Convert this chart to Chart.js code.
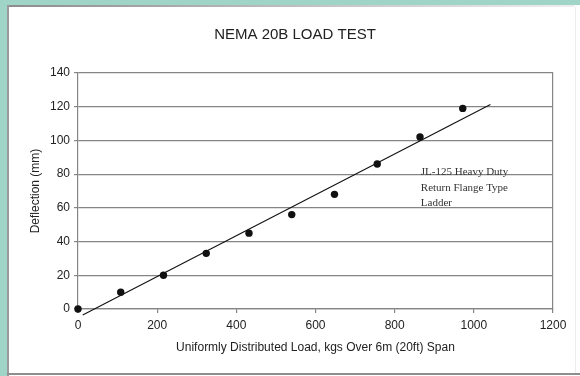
<!DOCTYPE html>
<html>
<head>
<meta charset="utf-8">
<title>NEMA 20B Load Test</title>
<script src="https://cdn.jsdelivr.net/npm/chart.js@4.4.1/dist/chart.umd.min.js"></script>
<style>
  body { margin: 0; background: #fff; }
  #frame { position: relative; width: 580px; height: 376px; overflow: hidden; background: #fff; }
  #frame canvas { position: absolute; left: 0; top: 0; }
  .edge { position: absolute; z-index: 2; }
  .teal-top { left: 0; top: 0; width: 580px; height: 5px; background: #9fd4c6; }
  .teal-left { left: 0; top: 0; width: 7px; height: 376px; background: #9fd4c6; }
  .line-top { left: 7px; top: 5px; width: 568px; height: 2px; background: linear-gradient(to right, #8c8c8c, #c8c8c8 60%, #eeeeee); }
  .line-left { left: 7px; top: 5px; width: 2px; height: 371px; background: #9a9a9a; }
  .line-bottom { left: 7px; top: 373px; width: 573px; height: 2px; background: #8e8e8e; }
  .line-right { left: 575px; top: 7px; width: 1px; height: 366px; background: #ececec; }
</style>
</head>
<body>
<div id="frame">
  <canvas id="loadChart" width="580" height="376"></canvas>
  <div class="edge teal-top"></div>
  <div class="edge teal-left"></div>
  <div class="edge line-top"></div>
  <div class="edge line-left"></div>
  <div class="edge line-bottom"></div>
  <div class="edge line-right"></div>
</div>
<script>
  //Test readings: load (kg) and mid-span deflection (mm)
  const loads = [0, 108, 216, 324, 432, 540, 648, 756, 864, 972];
  const deflections = [0, 10, 20, 33, 45, 56, 68, 86, 102, 119];

  //Axis ticks
  const xTicks = [0, 200, 400, 600, 800, 1000, 1200];
  const yTicks = [0, 20, 40, 60, 80, 100, 120, 140];

  //Trend line runs a little past the readings
  const trendFrom = 12;
  const trendTo = 1042;

  //Label for the tray type, placed in data units
  const ladderNote = ["JL-125 Heavy Duty", "Return Flange Type", "Ladder"];
  const notePos = { x: 866, y: 81 };

  const gridGray = "#858585";
  const textColor = "#222";
  const sans = "'Liberation Sans', Arial, sans-serif";

  //Least squares fit of the readings
  function fitLine(xs, ys) {
    const n = xs.length;
    const mx = xs.reduce((a, b) => a + b, 0) / n;
    const my = ys.reduce((a, b) => a + b, 0) / n;
    let sxy = 0;
    let sxx = 0;
    for (let i = 0; i < n; i++) {
      sxy += (xs[i] - mx) * (ys[i] - my);
      sxx += (xs[i] - mx) * (xs[i] - mx);
    }
    const slope = sxy / sxx;
    return { slope: slope, intercept: my - slope * mx };
  }

  const fit = fitLine(loads, deflections);
  const trendPoints = [trendFrom, trendTo].map((x) => ({
    x: x,
    y: fit.intercept + fit.slope * x,
  }));

  //Text block next to the trend line
  const notePlugin = {
    id: "ladderNote",
    afterDatasetsDraw(chart) {
      const ctx = chart.ctx;
      const x = chart.scales.x.getPixelForValue(notePos.x);
      const y = chart.scales.y.getPixelForValue(notePos.y);
      ctx.save();
      ctx.font = "11px 'Liberation Serif', 'Times New Roman', serif";
      ctx.fillStyle = "#333";
      ctx.textBaseline = "middle";
      ladderNote.forEach((line, i) => ctx.fillText(line, x, y + i * 15.5));
      ctx.restore();
    },
  };

  new Chart(document.getElementById("loadChart"), {
    type: "scatter",
    data: {
      datasets: [
        {
          label: "Deflection",
          data: loads.map((x, i) => ({ x: x, y: deflections[i] })),
          pointStyle: "circle",
          pointRadius: 3.7,
          backgroundColor: "#111",
          borderColor: "#111",
          borderWidth: 0,
          clip: false,
          order: 0,
        },
        {
          label: "Trend",
          data: trendPoints,
          showLine: true,
          pointRadius: 0,
          borderColor: "#111",
          borderWidth: 1.1,
          clip: false,
          order: 1,
        },
      ],
    },
    options: {
      responsive: false,
      animation: false,
      events: [],
      layout: { padding: { left: 10, right: 0, top: 0, bottom: 0 } },
      plugins: {
        legend: { display: false },
        tooltip: { enabled: false },
        title: {
          display: true,
          text: "NEMA 20B LOAD TEST",
          color: textColor,
          font: { family: sans, size: 15, weight: "normal" },
          padding: { top: 26, bottom: 29 },
        },
      },
      scales: {
        x: {
          type: "linear",
          min: 0,
          max: 1200,
          afterBuildTicks: (scale) => {
            scale.ticks = xTicks.map((v) => ({ value: v }));
          },
          afterFit: (scale) => {
            scale.height = 67;
          },
          ticks: {
            color: textColor,
            font: { family: sans, size: 12 },
            padding: 5,
            maxRotation: 0,
            callback: (v) => String(v),
          },
          grid: {
            drawOnChartArea: false,
            tickColor: gridGray,
            tickLength: 4,
            lineWidth: 1.2,
          },
          border: { color: gridGray, width: 1.2 },
          title: {
            display: true,
            text: "Uniformly Distributed Load, kgs Over 6m (20ft) Span",
            color: textColor,
            font: { family: sans, size: 12 },
            padding: { top: 0, bottom: 21 },
          },
        },
        y: {
          type: "linear",
          min: 0,
          max: 140,
          afterBuildTicks: (scale) => {
            scale.ticks = yTicks.map((v) => ({ value: v }));
          },
          afterFit: (scale) => {
            scale.width = 68;
          },
          ticks: {
            color: textColor,
            font: { family: sans, size: 12 },
            padding: 4,
            callback: (v) => String(v),
          },
          grid: {
            color: gridGray,
            tickColor: gridGray,
            tickLength: 4,
            lineWidth: 1.2,
          },
          border: { color: gridGray, width: 1.2 },
          title: {
            display: true,
            text: "Deflection (mm)",
            color: textColor,
            font: { family: sans, size: 12 },
            padding: { top: 18, bottom: 0 },
          },
        },
        //Right edge of the plot box
        yRight: {
          type: "linear",
          position: "right",
          min: 0,
          max: 140,
          afterFit: (scale) => {
            scale.width = 27;
          },
          ticks: { display: false },
          grid: { drawOnChartArea: false, drawTicks: false },
          border: { color: gridGray, width: 1.2 },
        },
      },
    },
    plugins: [notePlugin],
  });
</script>
</body>
</html>
